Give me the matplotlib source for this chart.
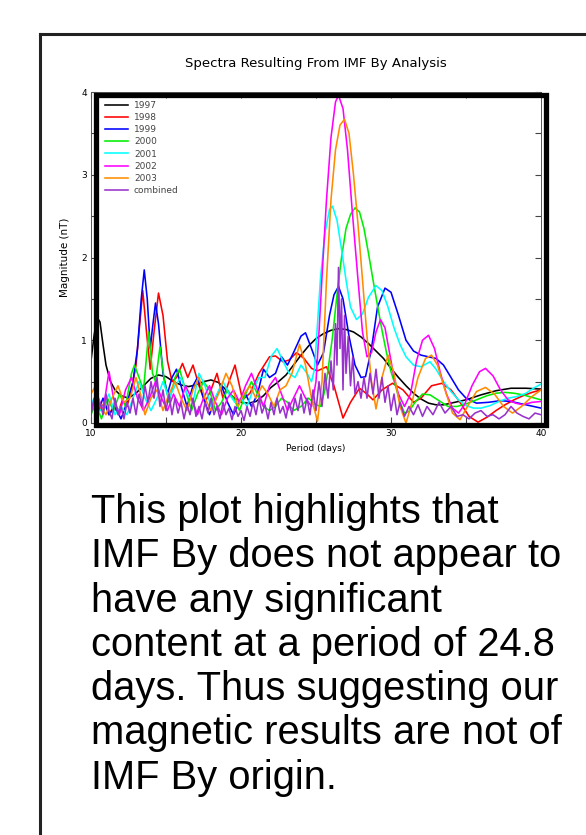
import matplotlib
matplotlib.use('Agg')
import matplotlib.pyplot as plt
import matplotlib.transforms as mtransforms
from matplotlib.patches import Rectangle
from matplotlib.lines import Line2D

# spectra: (period in days, magnitude in nT)
y1997 = [(10.0, 0.75), (10.2, 1.05), (10.4, 1.28), (10.6, 1.22), (10.8, 0.95), (11.0, 0.7),
         (11.3, 0.5), (11.6, 0.4), (12.0, 0.33), (12.5, 0.3), (13.0, 0.36), (13.5, 0.45),
         (14.0, 0.54), (14.5, 0.58), (15.0, 0.56), (15.5, 0.5), (16.0, 0.46), (16.5, 0.44),
         (17.0, 0.46), (17.5, 0.5), (18.0, 0.52), (18.5, 0.49), (19.0, 0.4), (19.5, 0.31),
         (20.0, 0.25), (20.5, 0.24), (21.0, 0.26), (21.5, 0.33), (22.0, 0.43), (22.5, 0.5),
         (23.0, 0.58), (23.5, 0.7), (24.0, 0.82), (24.5, 0.93), (25.0, 1.02), (25.5, 1.08),
         (26.0, 1.12), (26.5, 1.14), (27.0, 1.13), (27.5, 1.1), (28.0, 1.04), (28.5, 0.96),
         (29.0, 0.87), (29.5, 0.78), (30.0, 0.66), (30.5, 0.55), (31.0, 0.45), (31.5, 0.36),
         (32.0, 0.29), (32.5, 0.24), (33.0, 0.22), (33.5, 0.22), (34.0, 0.24), (35.0, 0.28),
         (36.0, 0.34), (37.0, 0.39), (38.0, 0.42), (39.0, 0.42), (40.0, 0.41)]

y1998 = [(10.0, 0.2), (10.3, 0.3), (10.6, 0.15), (10.9, 0.25), (11.2, 0.1), (11.5, 0.2),
         (11.8, 0.12), (12.1, 0.28), (12.4, 0.2), (12.7, 0.4), (13.0, 0.7), (13.2, 1.1),
         (13.45, 1.6), (13.7, 1.1), (13.95, 0.65), (14.2, 1.1), (14.5, 1.57), (14.8, 1.3),
         (15.1, 0.75), (15.4, 0.5), (15.7, 0.55), (16.1, 0.72), (16.45, 0.55), (16.8, 0.7),
         (17.2, 0.45), (17.6, 0.25), (18.0, 0.4), (18.4, 0.6), (18.8, 0.3), (19.2, 0.5),
         (19.6, 0.7), (20.1, 0.28), (20.6, 0.36), (21.2, 0.6), (21.9, 0.8), (22.3, 0.81),
         (22.8, 0.74), (23.2, 0.76), (23.7, 0.85), (24.2, 0.78), (24.7, 0.66), (25.1, 0.63),
         (25.7, 0.68), (26.2, 0.45), (26.8, 0.06), (27.3, 0.25), (27.9, 0.42), (28.4, 0.35),
         (28.8, 0.28), (29.4, 0.4), (30.1, 0.48), (30.8, 0.4), (31.5, 0.25), (32.0, 0.3),
         (32.7, 0.45), (33.4, 0.48), (34.0, 0.4), (34.6, 0.25), (35.2, 0.08), (35.8, 0.01),
         (36.4, 0.07), (37.0, 0.15), (37.6, 0.22), (38.2, 0.28), (38.8, 0.33), (39.4, 0.37),
         (40.0, 0.4)]

y1999 = [(10.0, 0.25), (10.4, 0.1), (10.8, 0.3), (11.2, 0.1), (11.6, 0.2), (12.0, 0.05),
         (12.4, 0.25), (12.8, 0.5), (13.1, 0.9), (13.35, 1.5), (13.55, 1.85), (13.75, 1.5),
         (13.95, 0.9), (14.1, 1.15), (14.3, 1.45), (14.5, 1.2), (14.8, 0.6), (15.1, 0.35),
         (15.4, 0.55), (15.7, 0.65), (16.0, 0.45), (16.4, 0.2), (16.8, 0.45), (17.1, 0.55),
         (17.5, 0.3), (17.9, 0.1), (18.3, 0.3), (18.7, 0.45), (19.1, 0.25), (19.5, 0.1),
         (19.9, 0.25), (20.3, 0.35), (20.7, 0.2), (21.1, 0.35), (21.5, 0.65), (21.9, 0.55),
         (22.3, 0.6), (22.7, 0.8), (23.1, 0.7), (23.5, 0.85), (24.0, 1.05), (24.3, 1.09),
         (24.7, 0.9), (25.1, 0.7), (25.5, 0.85), (25.9, 1.3), (26.2, 1.55), (26.5, 1.65),
         (26.8, 1.5), (27.2, 1.05), (27.6, 0.7), (28.0, 0.55), (28.3, 0.56), (28.7, 0.9),
         (29.1, 1.4), (29.6, 1.63), (30.0, 1.58), (30.5, 1.3), (31.0, 1.0), (31.5, 0.87),
         (32.0, 0.82), (32.5, 0.8), (33.0, 0.78), (33.5, 0.7), (34.0, 0.55), (34.5, 0.4),
         (35.0, 0.3), (35.7, 0.24), (36.5, 0.25), (37.3, 0.27), (38.0, 0.26), (39.0, 0.22),
         (40.0, 0.18)]

y2000 = [(10.0, 0.1), (10.3, 0.25), (10.7, 0.05), (11.1, 0.3), (11.5, 0.15), (11.9, 0.35),
         (12.3, 0.2), (12.7, 0.6), (12.9, 0.7), (13.2, 0.55), (13.5, 0.4), (13.85, 1.1),
         (14.1, 0.6), (14.3, 0.5), (14.6, 0.92), (14.9, 0.5), (15.2, 0.25), (15.6, 0.55),
         (15.9, 0.65), (16.3, 0.4), (16.7, 0.15), (17.1, 0.35), (17.5, 0.5), (17.9, 0.4),
         (18.3, 0.15), (18.7, 0.25), (19.1, 0.4), (19.5, 0.3), (19.9, 0.15), (20.3, 0.35),
         (20.7, 0.5), (21.1, 0.35), (21.5, 0.2), (21.9, 0.15), (22.3, 0.2), (22.7, 0.3),
         (23.1, 0.25), (23.5, 0.15), (24.0, 0.2), (24.5, 0.3), (25.0, 0.22), (25.3, 0.2),
         (25.6, 0.4), (25.8, 0.64), (26.1, 1.04), (26.4, 1.55), (26.7, 2.0), (27.0, 2.35),
         (27.3, 2.52), (27.6, 2.6), (27.9, 2.55), (28.2, 2.35), (28.5, 2.05), (28.8, 1.73),
         (29.1, 1.42), (29.4, 1.12), (29.7, 0.85), (30.0, 0.62), (30.3, 0.45), (30.6, 0.25),
         (30.9, 0.12), (31.2, 0.14), (31.6, 0.25), (32.1, 0.35), (32.6, 0.34), (33.2, 0.27),
         (33.8, 0.2), (34.4, 0.2), (35.0, 0.23), (35.7, 0.28), (36.4, 0.33), (37.0, 0.36),
         (37.6, 0.37), (38.2, 0.36), (38.8, 0.34), (39.4, 0.31), (40.0, 0.28)]

y2001 = [(10.0, 0.3), (10.4, 0.1), (10.8, 0.2), (11.2, 0.35), (11.6, 0.1), (12.0, 0.2),
         (12.4, 0.1), (12.8, 0.3), (13.2, 0.5), (13.6, 0.3), (14.0, 0.15), (14.4, 0.3),
         (14.8, 0.5), (15.2, 0.3), (15.6, 0.45), (16.0, 0.55), (16.4, 0.35), (16.8, 0.25),
         (17.2, 0.6), (17.6, 0.45), (18.0, 0.2), (18.4, 0.35), (18.8, 0.5), (19.2, 0.35),
         (19.6, 0.25), (20.0, 0.3), (20.4, 0.2), (20.8, 0.4), (21.2, 0.55), (21.6, 0.55),
         (22.0, 0.8), (22.4, 0.9), (22.8, 0.75), (23.2, 0.6), (23.6, 0.55), (24.0, 0.7),
         (24.4, 0.6), (24.7, 0.5), (24.9, 0.65), (25.1, 1.2), (25.3, 1.75), (25.6, 2.3),
         (25.9, 2.58), (26.1, 2.62), (26.4, 2.45), (26.7, 2.1), (27.0, 1.73), (27.3, 1.4),
         (27.7, 1.25), (28.1, 1.32), (28.5, 1.52), (29.0, 1.66), (29.4, 1.6), (29.8, 1.4),
         (30.2, 1.15), (30.6, 0.95), (31.0, 0.8), (31.5, 0.7), (32.0, 0.68), (32.6, 0.74),
         (33.0, 0.65), (33.5, 0.5), (34.0, 0.38), (34.5, 0.28), (35.0, 0.21), (35.5, 0.18),
         (36.0, 0.18), (36.6, 0.21), (37.2, 0.26), (37.8, 0.3), (38.4, 0.32), (39.0, 0.36),
         (39.5, 0.42), (40.0, 0.47)]

y2002 = [(10.0, 0.15), (10.4, 0.35), (10.8, 0.15), (11.2, 0.62), (11.5, 0.3), (11.9, 0.1),
         (12.3, 0.4), (12.7, 0.55), (13.1, 0.3), (13.5, 0.15), (13.9, 0.3), (14.3, 0.5),
         (14.7, 0.3), (15.1, 0.15), (15.5, 0.35), (15.9, 0.2), (16.3, 0.45), (16.7, 0.3),
         (17.1, 0.1), (17.5, 0.3), (17.9, 0.45), (18.3, 0.25), (18.7, 0.1), (19.1, 0.3),
         (19.5, 0.4), (19.9, 0.25), (20.3, 0.45), (20.7, 0.6), (21.1, 0.4), (21.5, 0.2),
         (21.9, 0.45), (22.3, 0.55), (22.7, 0.35), (23.1, 0.15), (23.5, 0.3), (23.9, 0.45),
         (24.3, 0.3), (24.7, 0.2), (25.0, 0.5), (25.2, 1.1), (25.4, 1.76), (25.7, 2.7),
         (26.0, 3.45), (26.3, 3.88), (26.5, 3.96), (26.8, 3.8), (27.1, 3.3), (27.4, 2.6),
         (27.8, 1.73), (28.1, 1.1), (28.4, 0.8), (28.7, 0.85), (29.0, 1.1), (29.3, 1.25),
         (29.6, 1.15), (29.9, 0.85), (30.2, 0.55), (30.5, 0.35), (30.9, 0.2), (31.3, 0.35),
         (31.7, 0.75), (32.1, 1.0), (32.5, 1.06), (32.9, 0.9), (33.3, 0.6), (33.7, 0.35),
         (34.1, 0.18), (34.5, 0.12), (34.9, 0.22), (35.4, 0.45), (35.9, 0.62), (36.3, 0.66),
         (36.8, 0.57), (37.3, 0.4), (37.8, 0.28), (38.3, 0.24), (38.8, 0.22), (39.4, 0.25),
         (40.0, 0.26)]

y2003 = [(10.0, 0.35), (10.3, 0.45), (10.6, 0.2), (11.0, 0.1), (11.4, 0.3), (11.8, 0.45),
         (12.2, 0.25), (12.6, 0.3), (13.0, 0.55), (13.3, 0.35), (13.6, 0.1), (14.0, 0.3),
         (14.4, 0.4), (14.8, 0.15), (15.2, 0.35), (15.6, 0.5), (16.0, 0.3), (16.4, 0.15),
         (16.8, 0.4), (17.2, 0.55), (17.6, 0.3), (18.0, 0.15), (18.5, 0.35), (19.0, 0.6),
         (19.4, 0.45), (19.8, 0.2), (20.2, 0.35), (20.6, 0.45), (21.0, 0.3), (21.4, 0.45),
         (21.8, 0.35), (22.2, 0.2), (22.6, 0.4), (23.0, 0.45), (23.4, 0.6), (23.9, 0.95),
         (24.3, 0.7), (24.7, 0.3), (25.1, 0.02), (25.4, 0.5), (25.7, 1.73), (26.0, 2.7),
         (26.3, 3.3), (26.6, 3.6), (26.9, 3.67), (27.2, 3.5), (27.5, 3.0), (27.8, 2.4),
         (28.1, 1.73), (28.4, 1.05), (28.7, 0.5), (29.0, 0.17), (29.4, 0.55), (29.8, 0.82),
         (30.2, 0.6), (30.6, 0.2), (31.0, 0.0), (31.4, 0.25), (31.8, 0.55), (32.3, 0.78),
         (32.7, 0.82), (33.1, 0.7), (33.6, 0.4), (34.1, 0.12), (34.6, 0.04), (35.1, 0.2),
         (35.7, 0.38), (36.3, 0.43), (36.9, 0.35), (37.5, 0.2), (38.1, 0.12), (38.7, 0.2),
         (39.4, 0.32), (40.0, 0.4)]

combined = [(10.0, 0.1), (10.2, 0.3), (10.4, 0.05), (10.6, 0.25), (10.8, 0.1), (11.0, 0.35),
            (11.2, 0.15), (11.4, 0.05), (11.6, 0.3), (11.8, 0.1), (12.0, 0.2), (12.2, 0.05),
            (12.4, 0.25), (12.6, 0.12), (12.8, 0.3), (13.0, 0.1), (13.2, 0.35), (13.4, 0.2),
            (13.6, 0.45), (13.8, 0.25), (14.0, 0.5), (14.2, 0.3), (14.4, 0.55), (14.6, 0.2),
            (14.8, 0.4), (15.0, 0.15), (15.2, 0.35), (15.4, 0.1), (15.6, 0.3), (15.8, 0.12),
            (16.0, 0.25), (16.2, 0.05), (16.4, 0.22), (16.6, 0.1), (16.8, 0.3), (17.0, 0.08),
            (17.2, 0.2), (17.4, 0.05), (17.6, 0.25), (17.8, 0.12), (18.0, 0.3), (18.2, 0.1),
            (18.4, 0.2), (18.6, 0.05), (18.8, 0.25), (19.0, 0.1), (19.2, 0.18), (19.4, 0.04),
            (19.6, 0.2), (19.8, 0.08), (20.0, 0.15), (20.2, 0.03), (20.4, 0.2), (20.6, 0.08),
            (20.8, 0.25), (21.0, 0.1), (21.2, 0.3), (21.4, 0.12), (21.6, 0.22), (21.8, 0.05),
            (22.0, 0.25), (22.2, 0.1), (22.4, 0.3), (22.6, 0.12), (22.8, 0.2), (23.0, 0.06),
            (23.2, 0.25), (23.4, 0.1), (23.6, 0.3), (23.8, 0.15), (24.0, 0.35), (24.2, 0.12),
            (24.4, 0.3), (24.6, 0.1), (24.8, 0.4), (25.0, 0.15), (25.2, 0.5), (25.4, 0.2),
            (25.6, 0.6), (25.8, 0.3), (26.0, 0.75), (26.15, 0.4), (26.3, 1.2), (26.4, 0.7),
            (26.5, 1.88), (26.6, 0.9), (26.7, 1.5), (26.8, 0.4), (26.9, 1.3), (27.0, 0.6),
            (27.15, 1.05), (27.3, 0.45), (27.45, 0.8), (27.6, 0.35), (27.8, 0.5), (28.0, 0.3),
            (28.2, 0.55), (28.4, 0.3), (28.6, 0.6), (28.8, 0.35), (29.0, 0.65), (29.2, 0.3),
            (29.4, 0.55), (29.6, 0.25), (29.8, 0.45), (30.0, 0.15), (30.2, 0.35), (30.4, 0.1),
            (30.6, 0.25), (30.9, 0.08), (31.2, 0.2), (31.5, 0.1), (31.8, 0.22), (32.1, 0.08),
            (32.4, 0.2), (32.8, 0.1), (33.2, 0.25), (33.6, 0.12), (34.0, 0.2), (34.4, 0.08),
            (34.8, 0.1), (35.2, 0.05), (35.6, 0.12), (36.0, 0.15), (36.4, 0.08), (36.8, 0.1),
            (37.2, 0.05), (37.6, 0.1), (38.0, 0.2), (38.4, 0.12), (38.8, 0.08), (39.2, 0.05),
            (39.6, 0.12), (40.0, 0.1)]

labels = ["1997", "1998", "1999", "2000", "2001", "2002", "2003", "combined"]
colors = ["black", "#ff0000", "#0000ff", "#00ee00", "#00ffff", "#ff00ff", "#ff8c00", "#9932cc"]
series = [y1997, y1998, y1999, y2000, y2001, y2002, y2003, combined]

body = ["This plot highlights that",
        "IMF By does not appear to",
        "have any significant",
        "content at a period of 24.8",
        "days. Thus suggesting our",
        "magnetic results are not of",
        "IMF By origin."]

fig = plt.figure(figsize=(5.86, 8.35), dpi=100)

# outer frame (top and left edges only)
fig.add_artist(Line2D([40 / 586, 1.0], [1 - 34 / 835, 1 - 34 / 835], color="#222222", lw=2.2))
fig.add_artist(Line2D([40 / 586, 40 / 586], [0.0, 1 - 34 / 835], color="#222222", lw=2.2))

ax = fig.add_axes([91 / 586, 1 - 423 / 835, 450 / 586, 331 / 835])

for data, lab, col in zip(series, labels, colors):
    px = [p for p, m in data]
    mg = [m for p, m in data]
    ax.plot(px, mg, color=col, lw=1.15, label=lab)

ax.set_xlim(10, 40)
ax.set_ylim(0, 4)
ax.set_xticks([10, 20, 30, 40])
ax.set_xticks([15, 25, 35], minor=True)
ax.set_yticks([0, 1, 2, 3, 4])
ax.set_yticks([0.5, 1.5, 2.5, 3.5], minor=True)
ax.tick_params(which="both", direction="in", top=True, right=True, length=4,
               width=0.8, color="#444444", labelsize=6.5)
ax.tick_params(axis="x", pad=4)
ax.tick_params(axis="y", pad=3)
for sp in ax.spines.values():
    sp.set_linewidth(0.7)
    sp.set_color("#555555")

# heavy shadow box, shifted a few pixels right and down
shadow = mtransforms.offset_copy(ax.transAxes, fig=fig, x=5, y=-2.5, units="dots")
ax.add_patch(Rectangle((0, 0), 1, 1, transform=shadow, fill=False, lw=3.8,
                       ec="black", clip_on=False, zorder=6))

ax.set_xlabel("Period (days)", fontsize=6.5, labelpad=5)
ax.set_ylabel("Magnitude (nT)", fontsize=7.5, labelpad=8)

leg = ax.legend(loc="upper left", fontsize=6.5, frameon=False, handlelength=2.6,
                handletextpad=0.6, labelspacing=0.35, borderaxespad=0.4,
                bbox_to_anchor=(0.015, 0.995))
for t in leg.get_texts():
    t.set_color("#444444")

fig.text(316 / 586, 1 - 63 / 835, "Spectra Resulting From IMF By Analysis",
         ha="center", va="center", fontsize=9.5)

for i, line in enumerate(body):
    fig.text(91 / 586, 1 - (512 + i * 44.3) / 835, line, ha="left", va="center",
             fontsize=28.7, family="Liberation Sans")

fig.savefig("out.png", dpi=100)
